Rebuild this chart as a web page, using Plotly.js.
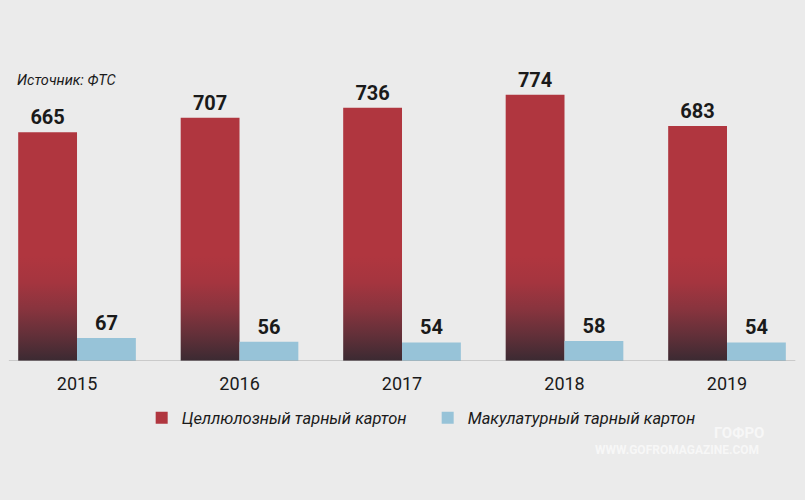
<!DOCTYPE html>
<html>
<head>
<meta charset="utf-8">
<script src="https://cdn.plot.ly/plotly-3.0.1.min.js"></script>
<style>
  html, body { margin: 0; padding: 0; background: #ebebeb; }
  #chart { width: 805px; height: 500px; }
</style>
</head>
<body>
<div id="chart"></div>
<script>
const years = ['2015', '2016', '2017', '2018', '2019'];
const celluloseBoard = [665, 707, 736, 774, 683];
const wastePaperBoard = [67, 56, 54, 58, 54];

const narrow = 'Roboto, "Liberation Sans", sans-serif';

const data = [
  {
    type: 'bar',
    name: 'Целлюлозный тарный картон',
    x: years,
    y: celluloseBoard,
    text: celluloseBoard.map(String),
    textposition: 'outside',
    textfont: { family: narrow, size: 20, color: '#1a1a1a', weight: 'bold' },
    marker: { color: '#b0363f' },
    cliponaxis: false,
    hoverinfo: 'none',
  },
  {
    type: 'bar',
    name: 'Макулатурный тарный картон',
    x: years,
    y: wastePaperBoard,
    text: wastePaperBoard.map(String),
    textposition: 'outside',
    textfont: { family: narrow, size: 20, color: '#1a1a1a', weight: 'bold' },
    marker: { color: '#97c3d8' },
    cliponaxis: false,
    hoverinfo: 'none',
  },
];

const layout = {
  width: 805,
  height: 500,
  margin: { l: 0, r: 0, t: 0, b: 139, autoexpand: false },
  paper_bgcolor: '#ebebeb',
  plot_bgcolor: '#ebebeb',
  barmode: 'group',
  bargap: 0.276,
  bargroupgap: 0,
  font: { family: narrow, color: '#1a1a1a' },
  xaxis: {
    type: 'category',
    range: [-0.474, 4.48],
    showgrid: false,
    zeroline: false,
    showline: false,
    ticks: 'outside',
    ticklen: 6,
    tickcolor: 'rgba(0,0,0,0)',
    tickfont: { family: narrow, size: 18, color: '#1a1a1a' },
  },
  yaxis: {
    range: [0, 1049],
    visible: false,
    showgrid: false,
    zeroline: false,
  },
  shapes: [
    {
      type: 'line',
      xref: 'paper',
      yref: 'y',
      x0: 0.011,
      x1: 0.988,
      y0: 0,
      y1: 0,
      line: { color: '#a8a8a8', width: 1 },
    },
  ],
  showlegend: true,
  legend: {
    orientation: 'h',
    x: 0.176,
    xanchor: 'left',
    y: -0.158,
    yanchor: 'middle',
    entrywidth: 241,
    bgcolor: 'rgba(0,0,0,0)',
    font: { family: narrow, size: 16.5, color: '#1a1a1a', style: 'italic' },
    itemclick: false,
    itemdoubleclick: false,
    traceorder: 'normal',
  },
  annotations: [
    {
      xref: 'paper',
      yref: 'paper',
      x: 0.019,
      y: 0.778,
      xanchor: 'left',
      yanchor: 'middle',
      text: 'Источник: ФТС',
      showarrow: false,
      font: { family: narrow, size: 14.5, color: '#1a1a1a', style: 'italic' },
    },
    {
      xref: 'paper',
      yref: 'paper',
      x: 0.841,
      y: -0.246,
      xanchor: 'center',
      yanchor: 'middle',
      text: 'WWW.GOFROMAGAZINE.COM',
      showarrow: false,
      font: { family: narrow, size: 12, color: '#f7f7f7', weight: 'bold' },
    },
    {
      xref: 'paper',
      yref: 'paper',
      x: 0.918,
      y: -0.2,
      xanchor: 'center',
      yanchor: 'middle',
      text: 'ГОФРО',
      showarrow: false,
      font: { family: narrow, size: 15, color: '#f7f7f7', weight: 'bold' },
    },
  ],
};

Plotly.newPlot('chart', data, layout, { displayModeBar: false, staticPlot: true }).then(gd => {
  // red bars fade to dark near the baseline
  const svg = gd.querySelector('svg.main-svg');
  const ns = 'http://www.w3.org/2000/svg';
  let defs = svg.querySelector('defs');
  if (!defs) {
    defs = document.createElementNS(ns, 'defs');
    svg.insertBefore(defs, svg.firstChild);
  }
  const grad = document.createElementNS(ns, 'linearGradient');
  grad.setAttribute('id', 'redFade');
  grad.setAttribute('gradientUnits', 'userSpaceOnUse');
  grad.setAttribute('x1', '0');
  grad.setAttribute('x2', '0');
  grad.setAttribute('y1', '256');
  grad.setAttribute('y2', '361');
  [
    ['0', '#b0363f'],
    ['0.25', '#a5353f'],
    ['0.5', '#89343e'],
    ['0.75', '#633039'],
    ['1', '#3b2a32'],
  ].forEach(([off, col]) => {
    const stop = document.createElementNS(ns, 'stop');
    stop.setAttribute('offset', off);
    stop.setAttribute('stop-color', col);
    grad.appendChild(stop);
  });
  defs.appendChild(grad);
  const redTrace = gd.querySelectorAll('.barlayer .trace')[0];
  redTrace.querySelectorAll('.point path').forEach(p => {
    p.style.fill = 'url(#redFade)';
  });
});
</script>
</body>
</html>
